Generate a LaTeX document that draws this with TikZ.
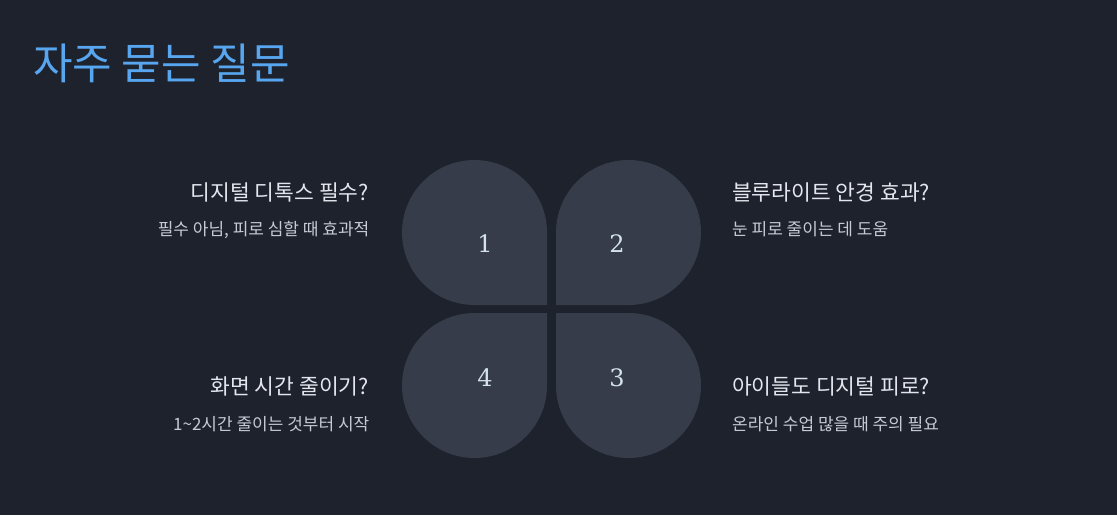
\documentclass[tikz,border=0pt]{standalone}
\usepackage{fontspec}
\setmainfont{Noto Sans CJK KR}
\newfontfamily\numfont{DejaVu Serif}
\definecolor{bg}{HTML}{1D222D}
\definecolor{petal}{HTML}{363C49}
\definecolor{titleblue}{HTML}{58A6F0}
\definecolor{headtxt}{HTML}{E3E7ED}
\definecolor{subtxt}{HTML}{C5CAD3}
\definecolor{numtxt}{HTML}{D4E2F0}
\begin{document}
\begin{tikzpicture}[x=1pt,y=1pt,
  petalshape/.style={fill=petal},
  numlabel/.style={text=numtxt,font=\numfont\fontsize{24}{28}\selectfont,inner sep=0pt,anchor=base},
  qhead/.style={text=headtxt,font=\fontsize{21.5}{25}\selectfont,inner sep=0pt},
  qsub/.style={text=subtxt,font=\fontsize{17}{20}\selectfont,inner sep=0pt},
  titletext/.style={text=titleblue,font=\fontsize{43}{48}\selectfont,inner sep=0pt,anchor=base west}]
\fill[bg] (0,0) rectangle (1117,515);
\useasboundingbox (0,0) rectangle (1117,515);
% title
\node[titletext] (title) at (33,435.5) {자주 묻는 질문};
% petals
\fill[petalshape] (547,210) -- (547,282.5) arc[start angle=0,end angle=270,radius=72.5] -- cycle;
\fill[petalshape] (556,210) -- (628.5,210) arc[start angle=-90,end angle=180,radius=72.5] -- cycle;
\fill[petalshape] (547,202) -- (474.5,202) arc[start angle=90,end angle=360,radius=72.5] -- cycle;
\fill[petalshape] (556,202) -- (556,129.5) arc[start angle=180,end angle=450,radius=72.5] -- cycle;
% numbers
\node[numlabel] (n1) at (485,262) {1};
\node[numlabel] (n2) at (617,262) {2};
\node[numlabel] (n3) at (617,129) {3};
\node[numlabel] (n4) at (485,129) {4};
% texts
\node[qhead,anchor=base east] (h1) at (369,314) {디지털 디톡스 필수?};
\node[qsub,anchor=base east] (s1) at (369.5,279.5) {필수 아님, 피로 심할 때 효과적};
\node[qhead,anchor=base west] (h2) at (732,314) {블루라이트 안경 효과?};
\node[qsub,anchor=base west] (s2) at (732,279.5) {눈 피로 줄이는 데 도움};
\node[qhead,anchor=base east] (h4) at (369,121) {화면 시간 줄이기?};
\node[qsub,anchor=base east] (s4) at (369.5,84.5) {1\textasciitilde 2시간 줄이는 것부터 시작};
\node[qhead,anchor=base west] (h3) at (732,121) {아이들도 디지털 피로?};
\node[qsub,anchor=base west] (s3) at (732,84.5) {온라인 수업 많을 때 주의 필요};
\end{tikzpicture}
\end{document}
